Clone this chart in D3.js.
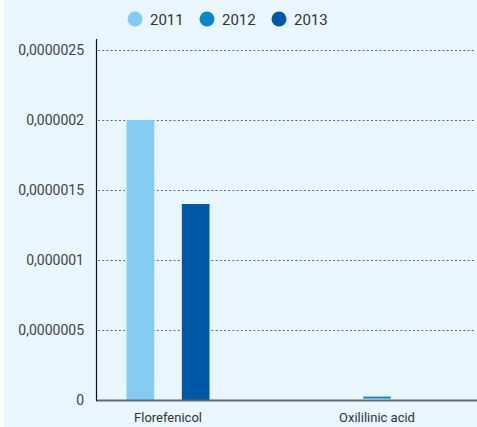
<!DOCTYPE html>
<html>
<head>
<meta charset="utf-8">
<script src="https://cdn.jsdelivr.net/npm/d3@7"></script>
<style>
  body { margin: 0; background: #fff; }
  svg { display: block; }
</style>
</head>
<body>
<div class="chart"></div>
<script>
// dati
const categories = ["Florefenicol", "Oxililinic acid"];
const years = ["2011", "2012", "2013"];
const values2011 = [0.000002, 0];
const values2012 = [0, 0.00000001];
const values2013 = [0.0000014, 0];
const yTicks = [0, 0.0000005, 0.000001, 0.0000015, 0.000002, 0.0000025];
const yTickLabels = ["0", "0,0000005", "0,000001", "0,0000015", "0,000002", "0,0000025"];

const width = 477;
const height = 427;

const svg = d3.select('.chart').append('svg')
    .attr('width', width)
    .attr('height', height);

svg.append('rect')
    .attr('x', 4).attr('y', 0)
    .attr('width', width - 4).attr('height', height)
    .attr('fill', '#e9f6fd');

const color = d3.scaleOrdinal()
    .domain(years)
    .range(["#82cbf1", "#0a87cb", "#0058a8"]);

const x0 = d3.scaleBand()
    .domain(categories)
    .range([96, 449])
    .paddingInner(0.603)
    .paddingOuter(0.146);

const x1 = d3.scaleBand()
    .domain(years)
    .range([0, x0.bandwidth()]);

const y = d3.scaleLinear()
    .domain([0, 0.0000025])
    .range([400, 50]);

// griglia tratteggiata
svg.append('g')
    .selectAll('line')
    .data(yTicks.filter(d => d > 0))
    .enter()
    .append('line')
    .attr('x1', 98)
    .attr('x2', 476)
    .attr('y1', d => Math.round(y(d)) + 0.5)
    .attr('y2', d => Math.round(y(d)) + 0.5)
    .attr('stroke', '#667')
    .attr('stroke-width', 1)
    .attr('stroke-dasharray', '2,2.2');

// etichette asse y
const yAxis = svg.append('g')
    .attr('transform', 'translate(87,0)')
    .call(d3.axisLeft(y).tickValues(yTicks).tickSize(0).tickFormat((d, i) => yTickLabels[i]));
yAxis.select('.domain').remove();
yAxis.selectAll('text')
    .attr('font-family', 'Roboto, sans-serif')
    .attr('font-size', 14)
    .attr('fill', '#444');

// barre
const series = { "2011": values2011, "2012": values2012, "2013": values2013 };
const groups = svg.append('g')
    .selectAll('g')
    .data(categories)
    .enter()
    .append('g')
    .attr('transform', d => `translate(${x0(d)},0)`);

groups.selectAll('rect')
    .data((d, i) => years.map(yr => ({ key: yr, value: series[yr][i] })))
    .enter()
    .append('rect')
    .attr('x', d => x1(d.key))
    .attr('width', x1.bandwidth())
    .attr('y', d => y(d.value) - (d.value > 0 && y(0) - y(d.value) < 2 ? 2 : 0))
    .attr('height', d => d.value > 0 ? Math.max(2, y(0) - y(d.value)) : 0)
    .attr('fill', d => color(d.key));

// assi
svg.append('line')
    .attr('x1', 96).attr('x2', 477)
    .attr('y1', 400.5).attr('y2', 400.5)
    .attr('stroke', '#666')
    .attr('stroke-width', 2);

svg.append('line')
    .attr('x1', 96.5).attr('x2', 96.5)
    .attr('y1', 39).attr('y2', 401)
    .attr('stroke', '#111')
    .attr('stroke-width', 1.2);

// etichette asse x
svg.append('g')
    .selectAll('text')
    .data(categories)
    .enter()
    .append('text')
    .attr('x', d => x0(d) + x0.bandwidth() / 2)
    .attr('y', 422)
    .attr('text-anchor', 'middle')
    .attr('font-family', 'Roboto, sans-serif')
    .attr('font-size', 13)
    .attr('fill', '#333')
    .text(d => d);

// legenda
const legend = svg.append('g')
    .selectAll('g')
    .data(years)
    .enter()
    .append('g')
    .attr('transform', (d, i) => `translate(${135 + i * 72},19)`);

legend.append('circle')
    .attr('r', 7.5)
    .attr('fill', d => color(d));

legend.append('text')
    .attr('x', 15)
    .attr('y', 6)
    .attr('font-family', 'Roboto, sans-serif')
    .attr('font-size', 15)
    .attr('fill', '#333')
    .text(d => d);
</script>
</body>
</html>
